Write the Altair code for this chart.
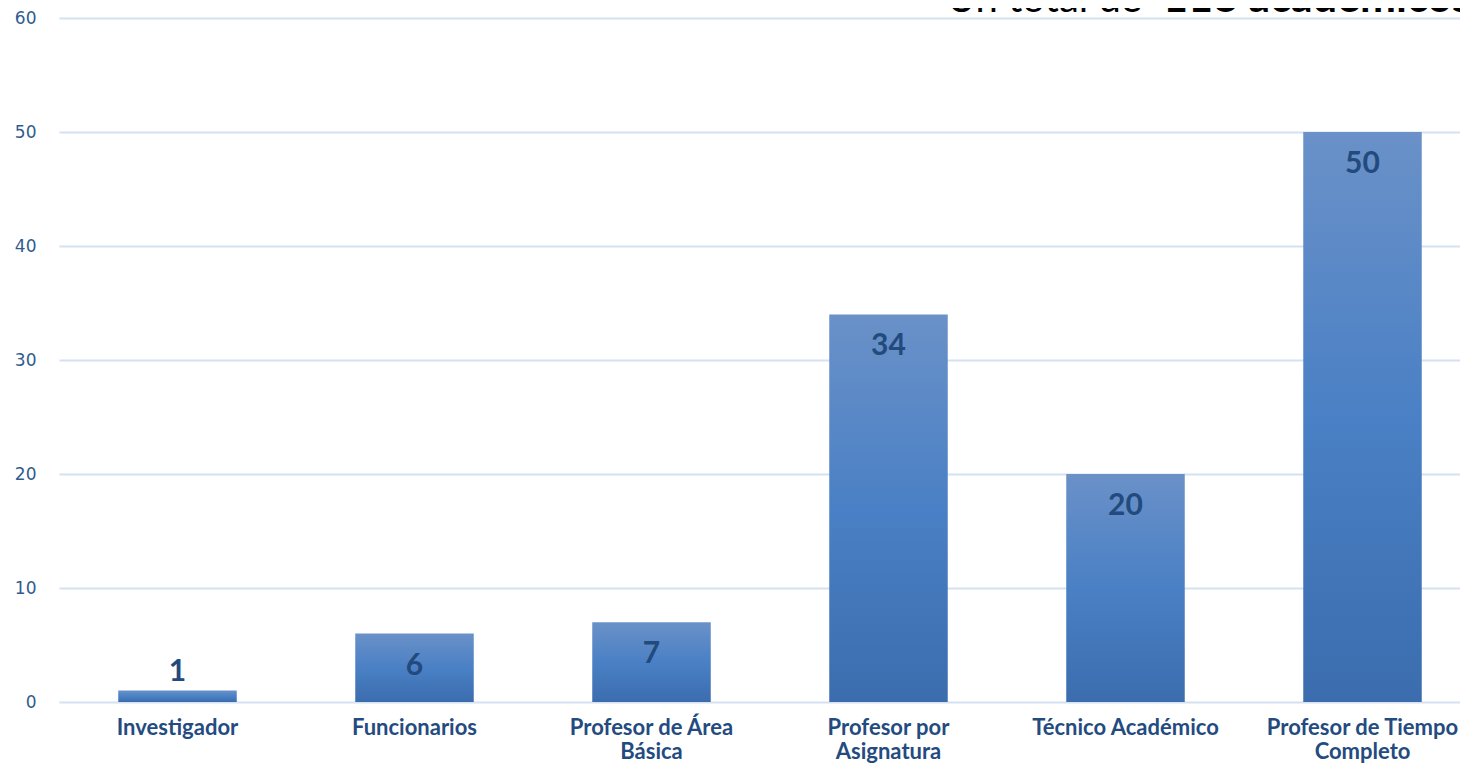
import altair as alt
import pandas as pd

categories = [
    "Investigador",
    "Funcionarios",
    "Profesor  de Área\nBásica",
    "Profesor por\nAsignatura",
    "Técnico Académico",
    "Profesor de Tiempo\nCompleto",
]
values = [1, 6, 7, 34, 20, 50]
y_ticks = [0, 10, 20, 30, 40, 50, 60]
title_normal = "Un total de"
title_bold = "118 académicos"

df = pd.DataFrame({"cat": categories, "v": values})

grad = {
    "gradient": "linear",
    "x1": 0, "x2": 0, "y1": 0, "y2": 1,
    "stops": [
        {"offset": 0, "color": "#6A91C8"},
        {"offset": 0.5, "color": "#4A80C5"},
        {"offset": 1, "color": "#3B6DAE"},
    ],
}

x_enc = alt.X(
    "cat:N",
    sort=categories,
    scale=alt.Scale(range=[0, 1422], paddingInner=0.5, paddingOuter=0.25),
    axis=alt.Axis(
        title=None, labelAngle=0, labelExpr="split(datum.label, '\\n')",
        labelFont="Lato", labelFontWeight="bold", labelFontSize=22,
        labelColor="#244B7F", labelPadding=15, labelLineHeight=24,
        labelLimit=400, labelOverlap=False, labelBound=False,
        domain=False, ticks=False, labelBaseline="top",
    ),
)
y_enc = alt.Y(
    "v:Q",
    scale=alt.Scale(domain=[0, 60], nice=False),
    axis=alt.Axis(
        title=None, values=y_ticks, grid=True, gridColor="#D5E1F0", gridWidth=2,
        domain=False, ticks=False, labelPadding=23, labelFont="DejaVu Sans",
        labelFontSize=17, labelColor="#2F5C8F",
    ),
)

base = alt.Chart(df)
bars = base.mark_bar(color=grad).encode(x=x_enc, y=y_enc)

txt_style = dict(font="Lato", fontWeight="bold", fontSize=30, color="#234A7C", baseline="middle")
inside = base.transform_filter("datum.v >= 3").mark_text(dy=32, **txt_style).encode(
    x=alt.X("cat:N", sort=categories), y="v:Q", text="v:Q")
outside = base.transform_filter("datum.v < 3").mark_text(dy=-19, **txt_style).encode(
    x=alt.X("cat:N", sort=categories), y="v:Q", text="v:Q")

t1 = alt.Chart(pd.DataFrame({"t": [title_normal]})).mark_text(
    align="right", baseline="alphabetic", font="Lato", fontSize=40, color="#000000"
).encode(x=alt.value(1083), y=alt.value(-6), text="t:N")
t2 = alt.Chart(pd.DataFrame({"t": [title_bold]})).mark_text(
    align="left", baseline="alphabetic", font="Lato", fontWeight="bold", fontSize=43, color="#000000"
).encode(x=alt.value(1104), y=alt.value(-6), text="t:N")

chart = alt.layer(bars, inside, outside, t1, t2).properties(
    width=1401, height=684,
    autosize=alt.AutoSizeParams(type="none"),
    padding={"left": 51, "top": 10, "right": 0, "bottom": 62},
).configure_view(stroke=None)

chart.save("out.html", embed_options={"renderer": "svg", "actions": False})
